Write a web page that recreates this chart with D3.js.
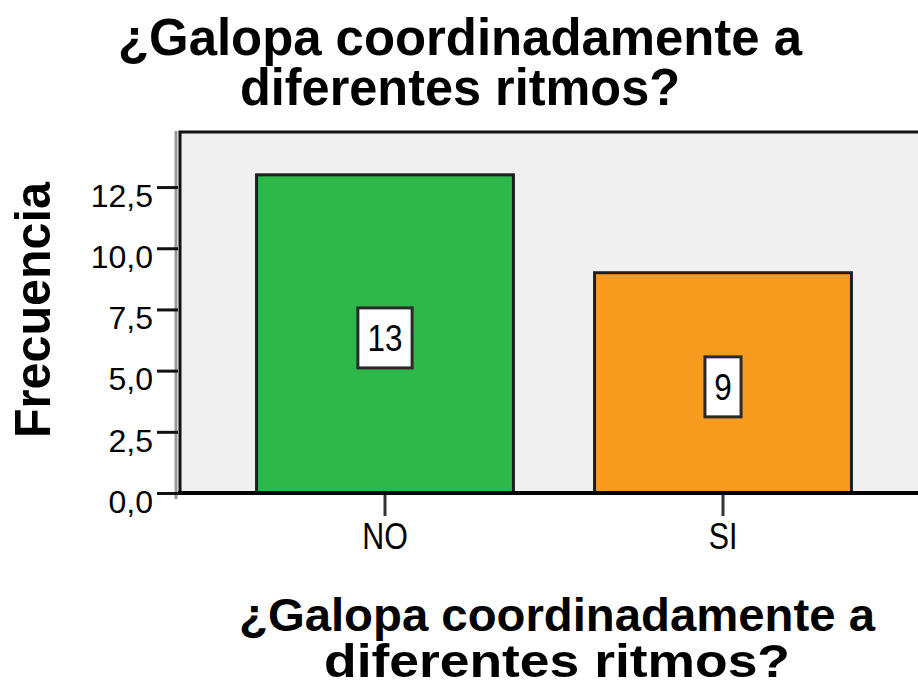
<!DOCTYPE html>
<html>
<head>
<meta charset="utf-8">
<script src="https://cdn.jsdelivr.net/npm/d3@7"></script>
<style>
  body { margin: 0; background: #fff; }
  svg { display: block; font-family: Arial, "Liberation Sans", sans-serif; }
</style>
</head>
<body>
<script>
var w = 918;
var h = 680;

var categories = ['NO', 'SI'];
var counts = [13, 9];
var yTicks = [0, 2.5, 5, 7.5, 10, 12.5];
var titleLines = ['¿Galopa coordinadamente a', 'diferentes ritmos?'];
var yTitle = 'Frecuencia';

var colors = ['#2eb84a', '#f99b1f'];

var plot = { left: 180, top: 132, right: 928, bottom: 493 };

var svg = d3.select('body')
			.append('svg')
			.attr('width', w)
			.attr('height', h);

var x = d3.scaleBand()
			.domain(categories)
			.range([plot.left, plot.right])
			.paddingInner(0.24)
			.paddingOuter(0.2265);

var y = d3.scaleLinear()
			.domain([0, 14.75])
			.range([plot.bottom, plot.top]);

// grey shadow line left of the frame
svg.append('line')
	.attr('x1', plot.left - 4)
	.attr('x2', plot.left - 4)
	.attr('y1', plot.top - 1)
	.attr('y2', plot.bottom + 6)
	.attr('stroke', '#999')
	.attr('stroke-width', 3);

// plot background + frame
svg.append('rect')
	.attr('x', plot.left)
	.attr('y', plot.top)
	.attr('width', plot.right - plot.left)
	.attr('height', plot.bottom - plot.top)
	.attr('fill', '#f0f0f0')
	.attr('stroke', '#111')
	.attr('stroke-width', 3);

// bars
svg.selectAll('rect.bar')
	.data(counts)
	.enter()
	.append('rect')
	.attr('class', 'bar')
	.attr('x', function(d, i) { return x(categories[i]); })
	.attr('y', function(d) { return y(d); })
	.attr('width', x.bandwidth())
	.attr('height', function(d) { return y(0) - y(d); })
	.attr('fill', function(d, i) { return colors[i]; })
	.attr('stroke', '#1e1e1e')
	.attr('stroke-width', 3);

// y axis
var yAxis = d3.axisLeft(y)
			.tickValues(yTicks)
			.tickSize(21)
			.tickPadding(4)
			.tickFormat(function(d) { return d3.format('.1f')(d).replace('.', ','); });

var gy = svg.append('g')
			.attr('transform', 'translate(' + (plot.left - 2) + ',0)')
			.call(yAxis);
gy.select('.domain').remove();
gy.selectAll('.tick line').attr('stroke', '#111').attr('stroke-width', 3);
gy.selectAll('.tick text')
	.attr('fill', '#000')
	.attr('font-size', 32)
	.attr('dy', '0.6em')
	.attr('x', -25);

// x axis
var xAxis = d3.axisBottom(x)
			.tickSize(22)
			.tickPadding(6);

var gx = svg.append('g')
			.attr('transform', 'translate(0,' + (plot.bottom + 1) + ')')
			.call(xAxis);
gx.select('.domain').remove();
gx.selectAll('.tick line').attr('stroke', '#333').attr('stroke-width', 3);
gx.selectAll('.tick text')
	.attr('fill', '#000')
	.attr('font-size', 37)
	.attr('dy', '0.72em')
	.attr('y', 28)
	.each(function() {
		d3.select(this)
			.attr('textLength', this.getComputedTextLength() * 0.82)
			.attr('lengthAdjust', 'spacingAndGlyphs');
	});

// baseline on top of the bars
svg.append('line')
	.attr('x1', plot.left - 2)
	.attr('x2', plot.right)
	.attr('y1', plot.bottom)
	.attr('y2', plot.bottom)
	.attr('stroke', '#000')
	.attr('stroke-width', 4);

// value labels in boxes
var labels = svg.selectAll('g.label')
				.data(counts)
				.enter()
				.append('g')
				.attr('class', 'label')
				.attr('transform', function(d, i) {
					return 'translate(' + (x(categories[i]) + x.bandwidth() / 2) + ',' + (y(d / 2) + 4) + ')';
				});

labels.append('text')
	.text(function(d) { return d; })
	.attr('text-anchor', 'middle')
	.attr('font-size', 37)
	.attr('y', 13)
	.attr('fill', '#000');

labels.insert('rect', 'text')
	.each(function() {
		var tw = this.parentNode.querySelector('text').getComputedTextLength();
		d3.select(this)
			.attr('x', -(tw * 0.88 + 18) / 2)
			.attr('y', -30)
			.attr('width', tw * 0.88 + 18)
			.attr('height', 60);
	})
	.attr('fill', '#fff')
	.attr('stroke', '#2a2a2a')
	.attr('stroke-width', 3);

labels.select('text')
	.each(function() {
		d3.select(this)
			.attr('textLength', this.getComputedTextLength() * 0.85)
			.attr('lengthAdjust', 'spacingAndGlyphs');
	});

// titles
function addLines(cx, baselines, size, widths) {
	svg.selectAll(null)
		.data(titleLines)
		.enter()
		.append('text')
		.text(function(d) { return d; })
		.attr('x', cx)
		.attr('y', function(d, i) { return baselines[i]; })
		.attr('text-anchor', 'middle')
		.attr('font-weight', 'bold')
		.attr('font-size', size)
		.attr('fill', '#000')
		.attr('textLength', function(d, i) { return widths[i]; })
		.attr('lengthAdjust', 'spacingAndGlyphs');
}

addLines(460, [55, 105], 52, [684, 440]);
addLines(557, [631, 677], 46, [636, 466]);

svg.append('text')
	.text(yTitle)
	.attr('transform', 'translate(50,310) rotate(-90)')
	.attr('text-anchor', 'middle')
	.attr('font-weight', 'bold')
	.attr('font-size', 50)
	.attr('fill', '#000')
	.attr('textLength', 256)
	.attr('lengthAdjust', 'spacingAndGlyphs');
</script>
</body>
</html>
